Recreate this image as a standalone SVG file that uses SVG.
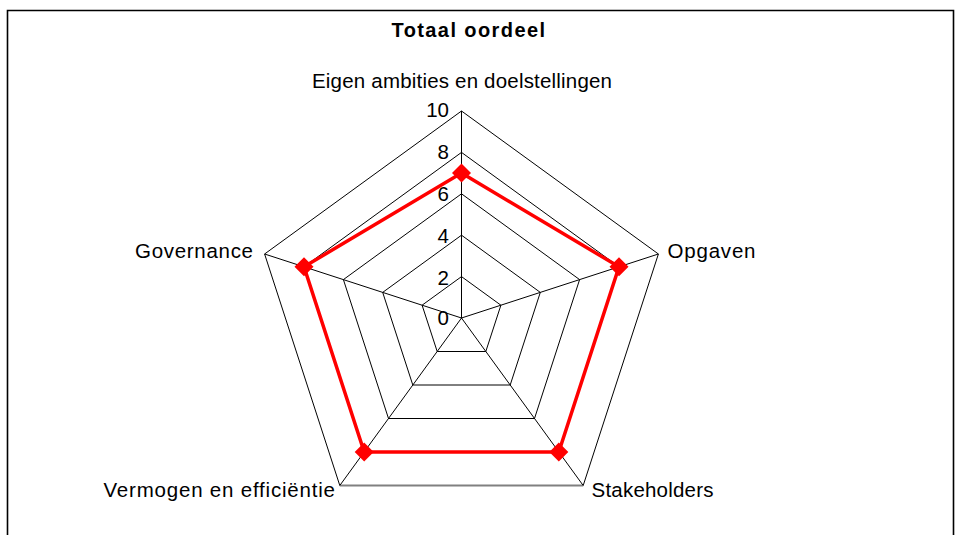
<svg xmlns="http://www.w3.org/2000/svg" width="961" height="535" viewBox="0 0 961 535">
<style>
text{font-family:"Liberation Sans",Arial,sans-serif;font-size:20.5px;fill:#000}
.title{font-weight:bold;font-size:20px}
.grid{fill:none;stroke:#000;stroke-width:1}
.num{text-anchor:end}
.series{fill:none;stroke:#ff0000;stroke-width:3.5;stroke-linejoin:miter}
.mk{fill:#ff0000}
</style>
<defs>
<path id="dia" d="M0,-9.5 L9.5,0 L0,9.5 L-9.5,0 Z"/>
</defs>
<rect width="961" height="535" fill="#fff"/>
<path d="M7.5,535 V10.5 H953.5 V535" fill="none" stroke="#000" stroke-width="1.6"/>
<text class="title" x="391.5" y="37" textLength="153.5" lengthAdjust="spacing">Totaal oordeel</text>
<g id="grid">
<polygon class="grid" points="461.5,276.6 500.9,305.2 485.8,351.5 437.2,351.5 422.1,305.2"/>
<polygon class="grid" points="461.5,235.2 540.3,292.4 510.2,385.0 412.8,385.0 382.7,292.4"/>
<polygon class="grid" points="461.5,193.8 579.6,279.6 534.5,418.5 388.5,418.5 343.4,279.6"/>
<polygon class="grid" points="461.5,152.4 619.0,266.8 558.8,452.0 364.2,452.0 304.0,266.8"/>
<polyline class="grid" points="339.8,485.5 264.6,254.0 461.5,111 658.4,254.0 583.2,485.5"/>
<line x1="339.8" y1="485.5" x2="583.2" y2="485.5" stroke="#808080" stroke-width="2"/>
<path class="grid" d="M461.5,318 L461.5,111 M461.5,318 L658.4,254.0 M461.5,318 L583.2,485.5 M461.5,318 L339.8,485.5 M461.5,318 L264.6,254.0"/>
</g>
<g id="scale">
<text class="num" x="449" y="117">10</text>
<text class="num" x="449" y="159">8</text>
<text class="num" x="449" y="201">6</text>
<text class="num" x="449" y="243">4</text>
<text class="num" x="449" y="285">2</text>
<text class="num" x="449" y="325">0</text>
</g>
<g id="axis-eigen"><text x="312" y="88" textLength="300" lengthAdjust="spacing">Eigen ambities en doelstellingen</text></g>
<g id="axis-opgaven"><text x="667.5" y="258" textLength="88" lengthAdjust="spacing">Opgaven</text></g>
<g id="axis-stakeholders"><text x="591.5" y="497" textLength="122" lengthAdjust="spacing">Stakeholders</text></g>
<g id="axis-vermogen"><text x="103.5" y="497" textLength="231.5" lengthAdjust="spacing">Vermogen en efficiëntie</text></g>
<g id="axis-governance"><text x="135" y="258" textLength="118" lengthAdjust="spacing">Governance</text></g>
<g id="series">
<polygon class="series" points="461.5,173.1 619.0,266.8 558.8,452.0 364.2,452.0 304.0,266.8"/>
<use href="#dia" class="mk" x="461.5" y="173.1"/>
<use href="#dia" class="mk" x="619.0" y="266.8"/>
<use href="#dia" class="mk" x="558.8" y="452.0"/>
<use href="#dia" class="mk" x="364.2" y="452.0"/>
<use href="#dia" class="mk" x="304.0" y="266.8"/>
</g>
</svg>
